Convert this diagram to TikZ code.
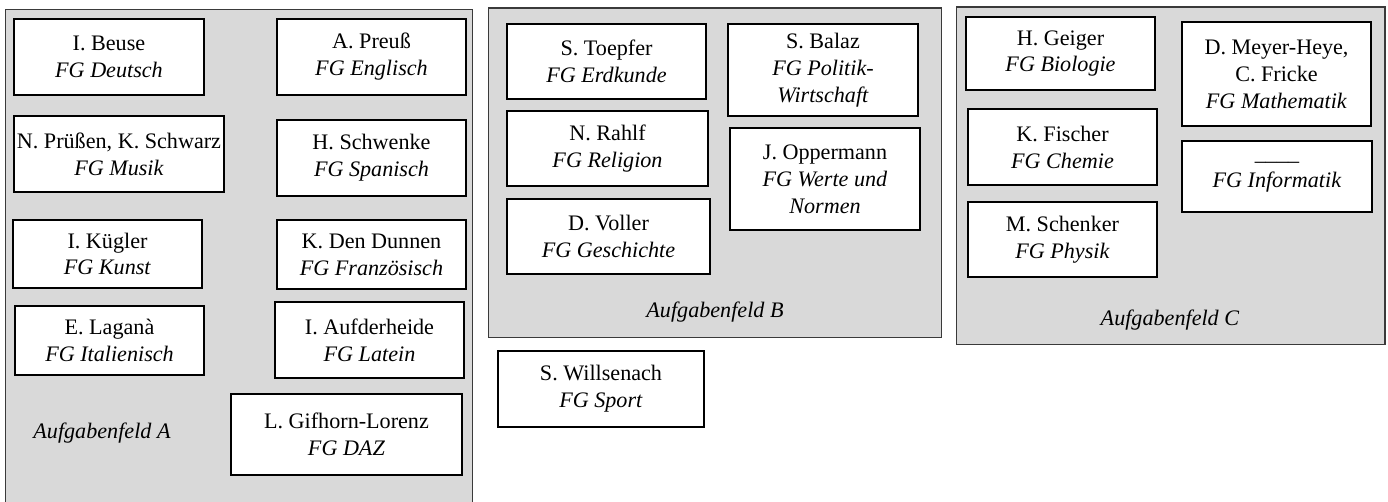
\documentclass[tikz,border=0pt]{standalone}
\usepackage{fontspec}
\setmainfont{Liberation Serif}
\definecolor{feldgrau}{HTML}{D9D9D9}
\definecolor{randgrau}{HTML}{3A3A3A}
\begin{document}
\begin{tikzpicture}[x=0.02cm,y=-0.02cm,font=\fontsize{12.6}{15.3}\selectfont,
	feld/.style={rectangle,draw=randgrau,fill=feldgrau,line width=0.6pt,inner sep=0pt},
	fach/.style={rectangle,draw,fill=white,line width=1.3pt,align=center,inner sep=0pt,minimum width=3.78cm,minimum height=1.52cm}]
	\useasboundingbox (0,0) rectangle (1388,502);

	% Aufgabenfeld A
	\node (feldA)[feld,minimum width=9.36cm,minimum height=10.02cm] at (239,259.5){};
	\node (beuse)[fach,minimum width=3.8cm] at (109,57){I. Beuse\\\textit{FG Deutsch}};
	\node (preuss)[fach] at (371.5,57){A. Preuß\\\textit{FG Englisch}};
	\node (pruessen)[fach,minimum width=4.2cm] at (119,154){N. Prüßen, K. Schwarz\\\textit{FG Musik}};
	\node (schwenke)[fach] at (371.5,158){H. Schwenke\\\textit{FG Spanisch}};
	\node (kuegler)[fach,minimum height=1.36cm] at (107.5,254){I. Kügler\\\textit{FG Kunst}};
	\node (dunnen)[fach,minimum height=1.38cm] at (371.5,254.5){K. Den Dunnen\\\textit{FG Französisch}};
	\node (lagana)[fach,minimum height=1.38cm] at (109.5,340.5){E. Laganà\\\textit{FG Italienisch}};
	\node (aufderheide)[fach] at (369.5,340){I. Aufderheide\\\textit{FG Latein}};
	\node (gifhorn)[fach,minimum width=4.62cm,minimum height=1.62cm] at (346.5,434.5){L. Gifhorn-Lorenz\\\textit{FG DAZ}};
	\node (labelA) at (102,433){\textit{Aufgabenfeld A}};

	% Aufgabenfeld B
	\node (feldB)[feld,minimum width=9.08cm,minimum height=6.6cm] at (715,173){};
	\node (toepfer)[fach,minimum width=3.98cm,minimum height=1.5cm] at (606.5,61.5){S. Toepfer\\\textit{FG Erdkunde}};
	\node (balaz)[fach,minimum width=3.8cm,minimum height=1.84cm] at (823,70){S. Balaz\\\textit{FG Politik-}\\\textit{Wirtschaft}};
	\node (rahlf)[fach,minimum width=4.02cm,minimum height=1.5cm] at (607.5,148.5){N. Rahlf\\\textit{FG Religion}};
	\node (oppermann)[fach,minimum width=3.8cm,minimum height=2.04cm] at (825,179){J. Oppermann\\\textit{FG Werte und}\\\textit{Normen}};
	\node (voller)[fach,minimum width=4.06cm,minimum height=1.5cm] at (608.5,236.5){D. Voller\\\textit{FG Geschichte}};
	\node (labelB) at (715,312){\textit{Aufgabenfeld B}};

	\node (willsenach)[fach,minimum width=4.12cm] at (601,389){S. Willsenach\\\textit{FG Sport}};

	% Aufgabenfeld C
	\node (feldC)[feld,minimum width=8.58cm,minimum height=6.76cm] at (1170.5,176){};
	\node (geiger)[fach,minimum height=1.46cm] at (1060.5,53.5){H. Geiger\\\textit{FG Biologie}};
	\node (meyer)[fach,minimum height=2.08cm] at (1276.5,74){D. Meyer-Heye,\\C. Fricke\\\textit{FG Mathematik}};
	\node (fischer)[fach] at (1062.5,147){K. Fischer\\\textit{FG Chemie}};
	\node (informatik)[fach,minimum width=3.8cm,minimum height=1.42cm] at (1277,176.5){\_\_\_\_\\\textit{FG Informatik}};
	\node (schenker)[fach,minimum height=1.5cm] at (1062.5,239.5){M. Schenker\\\textit{FG Physik}};
	\node (labelC) at (1170,320){\textit{Aufgabenfeld C}};
\end{tikzpicture}
\end{document}
